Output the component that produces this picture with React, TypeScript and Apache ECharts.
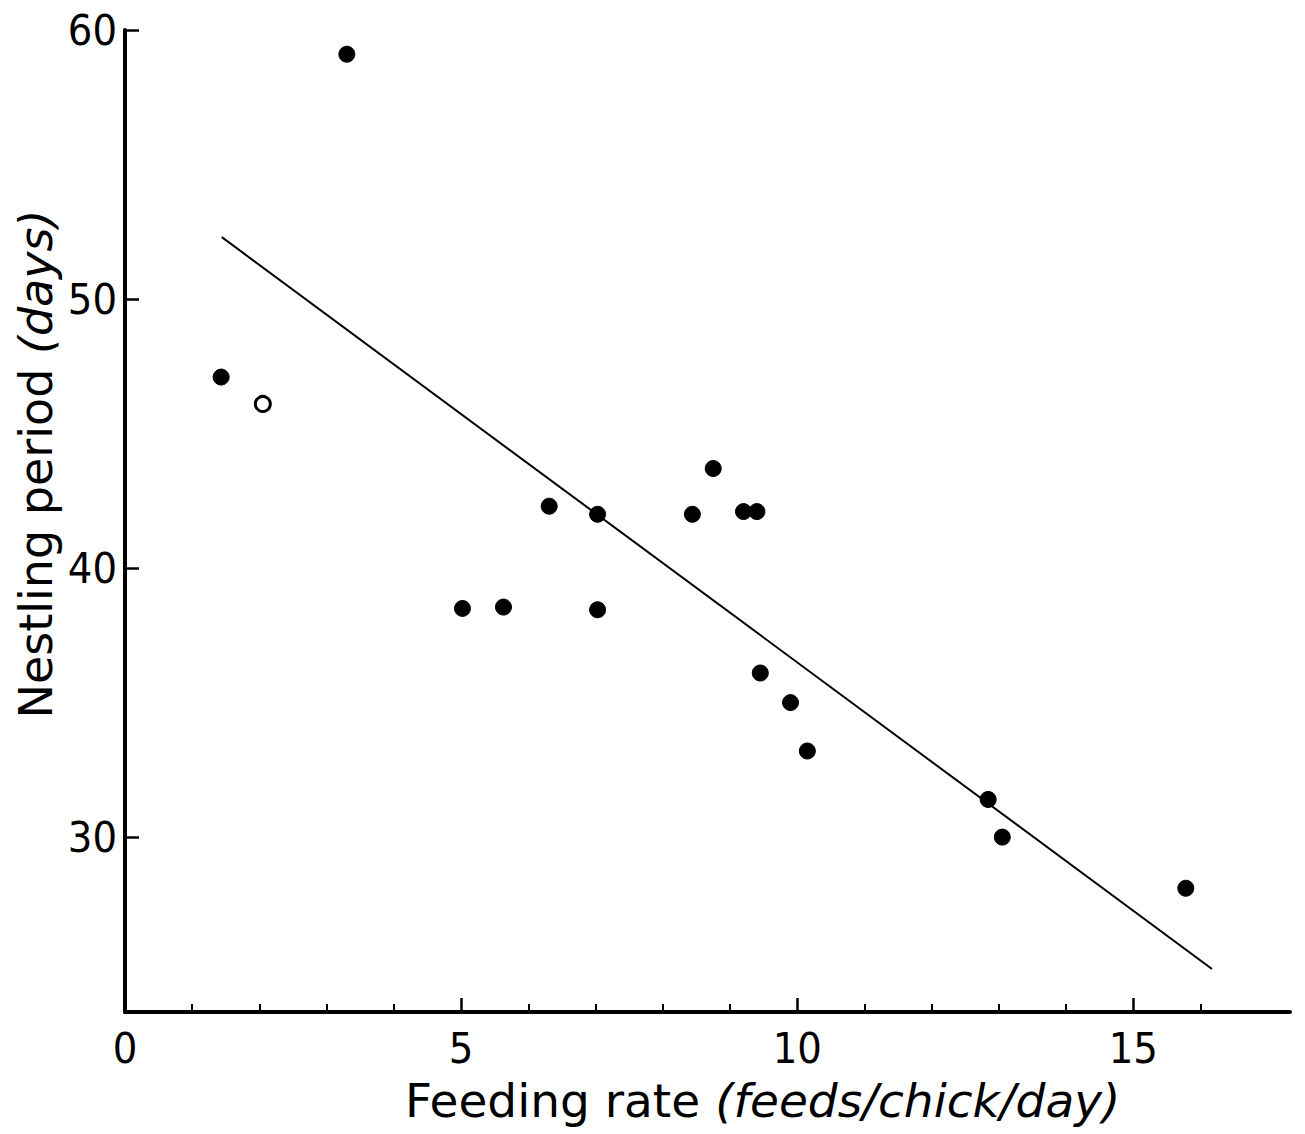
import React, { useEffect, useRef } from "react";
import * as echarts from "echarts";

// Filled points (feeding rate, nestling period)
const filledX = [1.43, 3.3, 5.02, 5.63, 6.31, 7.03, 7.03, 8.44, 8.75, 9.2, 9.4, 9.45, 9.9, 10.15, 12.84, 13.05, 15.78];
const filledY = [47.1, 59.1, 38.5, 38.55, 42.3, 42.0, 38.45, 42.0, 43.7, 42.1, 42.1, 36.1, 35.0, 33.2, 31.4, 30.0, 28.1];
// Open point
const openX = [2.05];
const openY = [46.1];
// Regression line end points
const lineX = [1.44, 16.17];
const lineY = [52.3, 25.1];

const xLabelTicks = [0, 5, 10, 15];
const xMajorTicks = [5, 10, 15];
const xMinorTicks = [1, 2, 3, 4, 6, 7, 8, 9, 11, 12, 13, 14, 16];
const yTicks = [30, 40, 50, 60];

const FONT = '"DejaVu Sans Condensed", "Liberation Sans Narrow", "DejaVu Sans", sans-serif';
const TITLE_FONT = '"DejaVu Sans", sans-serif';

export default function App() {
  const ref = useRef<HTMLDivElement>(null);
  useEffect(() => {
    if (!ref.current) return;
    const chart = echarts.init(ref.current, null, { renderer: "svg" });
    const zip = (xs: number[], ys: number[]) => xs.map((x, i) => [x, ys[i]]);
    chart.setOption({
      animation: false,
      backgroundColor: "#ffffff",
      grid: { left: 125, right: 15, top: 30, bottom: 122, containLabel: false },
      xAxis: [
        {
          type: "value",
          min: 0,
          max: 17.33,
          position: "bottom",
          splitLine: { show: false },
          axisLine: { show: true, onZero: false, lineStyle: { color: "#000", width: 4 } },
          axisTick: { show: true, inside: true, length: 14, customValues: xMajorTicks, lineStyle: { color: "#000", width: 2.5 } },
          axisLabel: { show: true, customValues: xLabelTicks, margin: 14, fontFamily: FONT, fontSize: 43, color: "#000" },
        },
        {
          type: "value",
          min: 0,
          max: 17.33,
          position: "bottom",
          splitLine: { show: false },
          axisLine: { show: false, onZero: false },
          axisTick: { show: true, inside: true, length: 8, customValues: xMinorTicks, lineStyle: { color: "#000", width: 2 } },
          axisLabel: { show: false },
        },
      ],
      yAxis: {
        type: "value",
        min: 23.5,
        max: 60,
        splitLine: { show: false },
        axisLine: { show: true, onZero: false, lineStyle: { color: "#000", width: 4 } },
        axisTick: { show: true, inside: true, length: 14, customValues: yTicks, lineStyle: { color: "#000", width: 2.5 } },
        axisLabel: { show: true, customValues: yTicks, margin: 8, fontFamily: FONT, fontSize: 43, color: "#000" },
      },
      graphic: [
        {
          type: "text",
          x: 405,
          y: 1124,
          style: {
            text: "{n|Feeding rate }{i|(feeds/chick/day)}",
            verticalAlign: "bottom",
            rich: {
              n: { fontFamily: TITLE_FONT, fontSize: 47, fill: "#000" },
              i: { fontFamily: TITLE_FONT, fontSize: 47, fontStyle: "italic", fill: "#000" },
            },
          },
        },
        {
          type: "text",
          x: 36,
          y: 464,
          rotation: Math.PI / 2,
          style: {
            text: "{n|Nestling period }{i|(days)}",
            align: "center",
            verticalAlign: "middle",
            rich: {
              n: { fontFamily: TITLE_FONT, fontSize: 46, fill: "#000" },
              i: { fontFamily: TITLE_FONT, fontSize: 46, fontStyle: "italic", fill: "#000" },
            },
          },
        },
      ],
      series: [
        {
          type: "line",
          data: zip(lineX, lineY),
          symbol: "none",
          lineStyle: { color: "#000", width: 2 },
        },
        {
          type: "scatter",
          data: zip(filledX, filledY),
          symbol: "circle",
          symbolSize: 16,
          itemStyle: { color: "#000", borderColor: "#000", borderWidth: 1, opacity: 1 },
        },
        {
          type: "scatter",
          data: zip(openX, openY),
          symbol: "circle",
          symbolSize: 15,
          itemStyle: { color: "#fff", borderColor: "#000", borderWidth: 3, opacity: 1 },
        },
      ],
    });
    return () => chart.dispose();
  }, []);
  return <div ref={ref} style={{ position: "absolute", left: 0, top: 0, width: 1305, height: 1134 }} />;
}
